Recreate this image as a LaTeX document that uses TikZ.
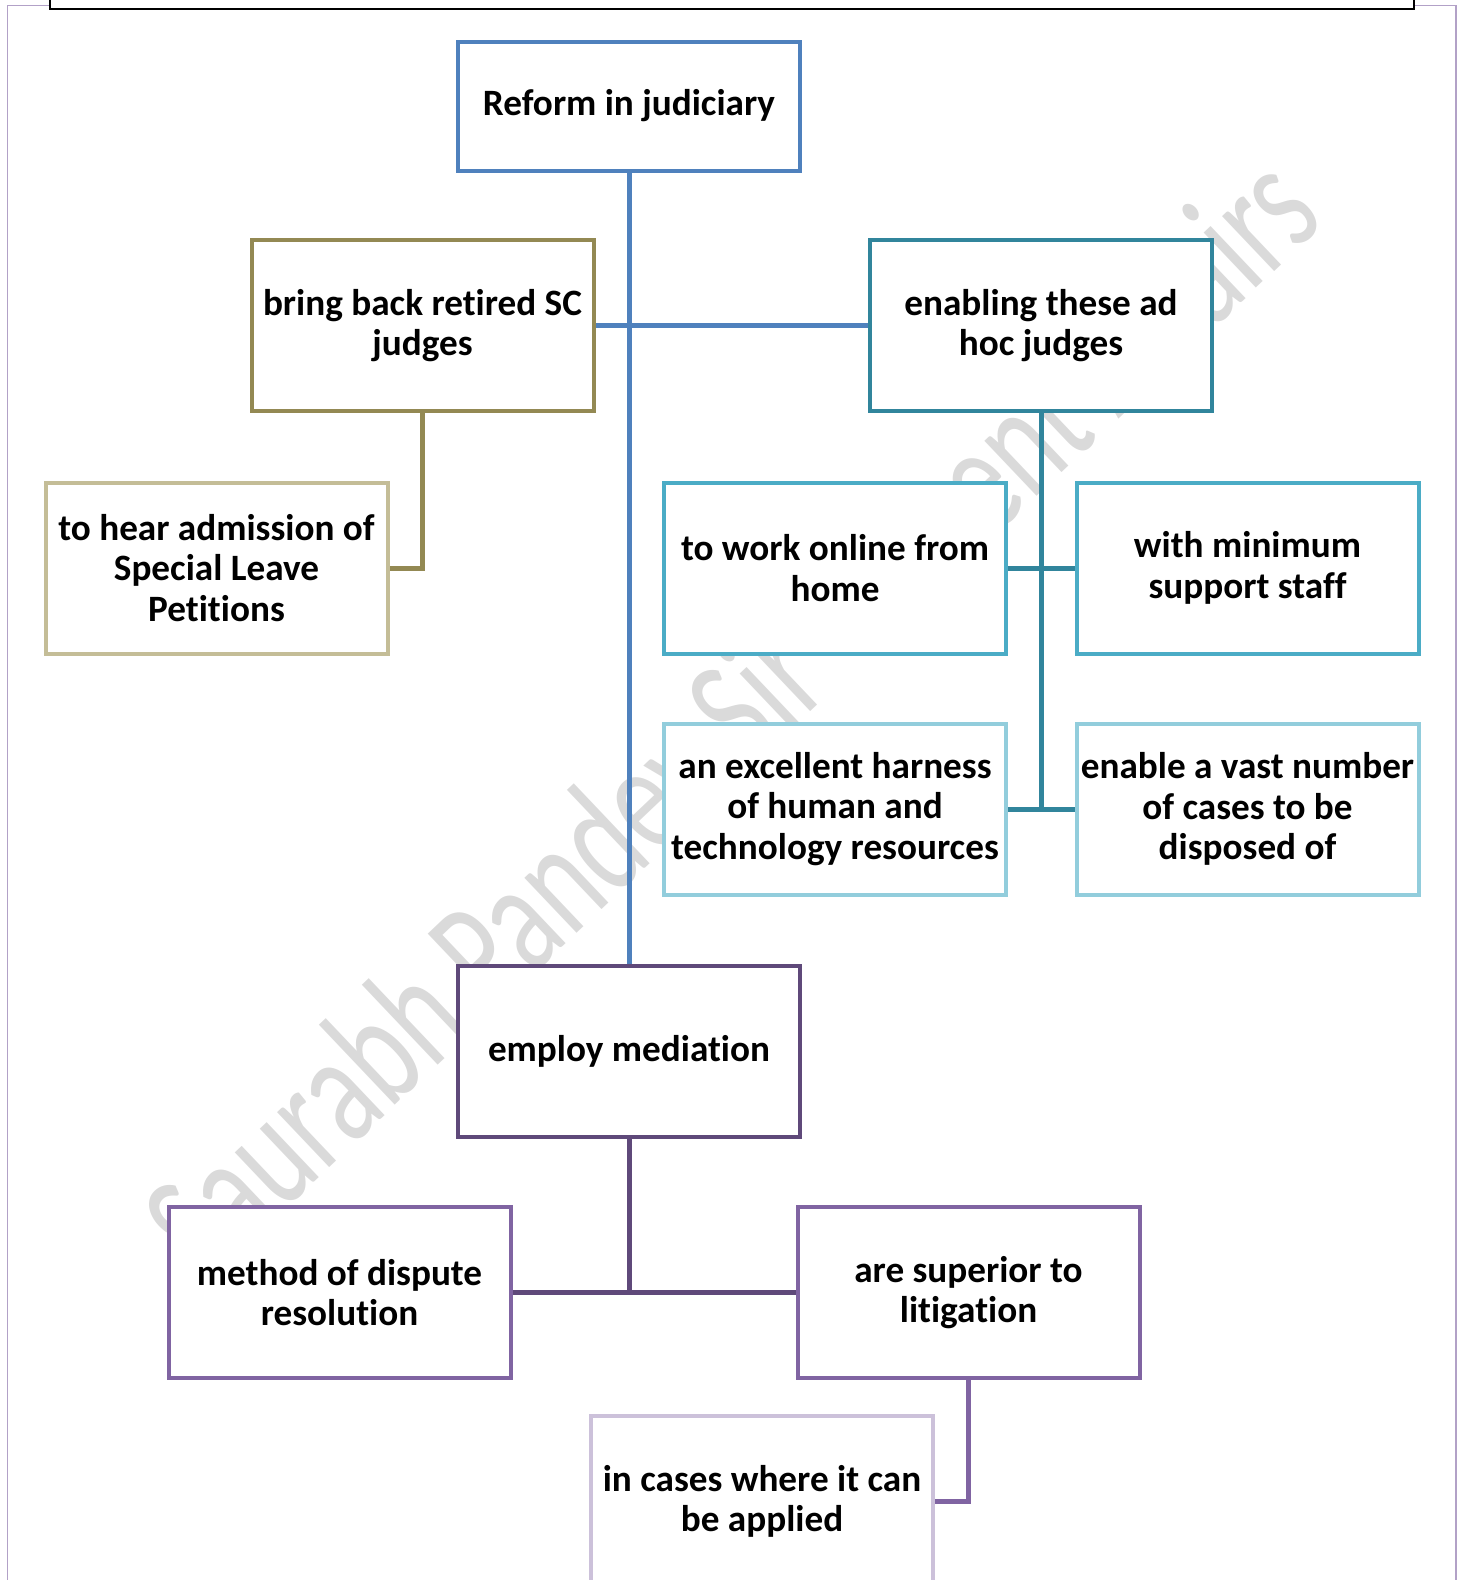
\documentclass[tikz,border=0pt]{standalone}
\usepackage{fontspec}
\setmainfont{Carlito}[Ligatures={NoCommon}]
\usetikzlibrary{backgrounds}
\definecolor{cBlue}{HTML}{4F81BD}
\definecolor{cOlive}{HTML}{938953}
\definecolor{cOliveL}{HTML}{C4BD97}
\definecolor{cTeal}{HTML}{31859C}
\definecolor{cTealM}{HTML}{4BACC6}
\definecolor{cTealL}{HTML}{92CDDC}
\definecolor{cPurD}{HTML}{5F497A}
\definecolor{cPur}{HTML}{8064A2}
\definecolor{cPurL}{HTML}{CCC1DA}
\definecolor{cFrame}{HTML}{B2A1C7}
\definecolor{cWater}{HTML}{DADADA}
\begin{document}
\begin{tikzpicture}[x=0.5pt,y=-0.5pt,
  box/.style={draw, line width=2pt, fill=white, minimum width=171pt, minimum height=85.5pt,
    inner sep=0pt, align=center, font=\bfseries\fontsize{18.6}{20.2}\selectfont},
  conn/.style={line width=2.5pt}]
\useasboundingbox (0,0) rectangle (1464,1580);
% nodes
\node[box, draw=cBlue, minimum height=64.5pt] (reform) at (629,106) {Reform in judiciary};
\node[box, draw=cOlive] (bring) at (422.5,325.5) {bring back retired SC\\judges};
\node[box, draw=cTeal] (enabling) at (1041,325.5) {enabling these ad\\hoc judges};
\node[box, draw=cOliveL] (hear) at (216.5,568) {to hear admission of\\Special Leave\\Petitions};
\node[box, draw=cTealM] (work) at (835,568) {to work online from\\home};
\node[box, draw=cTealM] (withmin) at (1247.5,568) {with minimum\\support staff};
\node[box, draw=cTealL] (excellent) at (835,809) {an excellent harness\\of human and\\technology resources};
\node[box, draw=cTealL] (vast) at (1247.5,809) {enable a vast number\\of cases to be\\disposed of};
\node[box, draw=cPurD] (employ) at (629,1051) {employ mediation};
\node[box, draw=cPur] (method) at (339.5,1292.5) {method of dispute\\resolution};
\node[box, draw=cPur] (superior) at (968.5,1292.5) {are superior to\\litigation};
\node[box, draw=cPurL] (incases) at (762,1501.5) {in cases where it can\\be applied};
\begin{scope}[on background layer]
  % page frame
  \draw[cFrame, line width=0.9pt] (7.5,1600) -- (7.5,5.5) -- (1456,5.5) -- (1456,1600);
  \draw[black, line width=1pt, fill=white] (50,-20) rectangle (1414,8.5);
  % watermark
  \node[text=cWater, rotate=43.5, font=\fontsize{55.5}{60}\selectfont, inner sep=0pt] (wm) at (738,722)
    {\scalebox{1}[1.43]{Saurabh Pandey Sir Current Affairs}};
  % connectors
  \draw[conn, cBlue] (reform.south) -- (employ.north);
  \draw[conn, cBlue] (bring.east) -- (enabling.west);
  \draw[conn, cOlive] (bring.south) |- (hear.east);
  \draw[conn, cTeal] (enabling.south) -- (enabling.south |- excellent.east);
  \draw[conn, cTeal] (work.east) -- (withmin.west);
  \draw[conn, cTeal] (excellent.east) -- (vast.west);
  \draw[conn, cPurD] (employ.south) -- (employ.south |- method.east);
  \draw[conn, cPurD] (method.east) -- (superior.west);
  \draw[conn, cPur] (superior.south) |- (incases.east);
\end{scope}
\end{tikzpicture}
\end{document}
